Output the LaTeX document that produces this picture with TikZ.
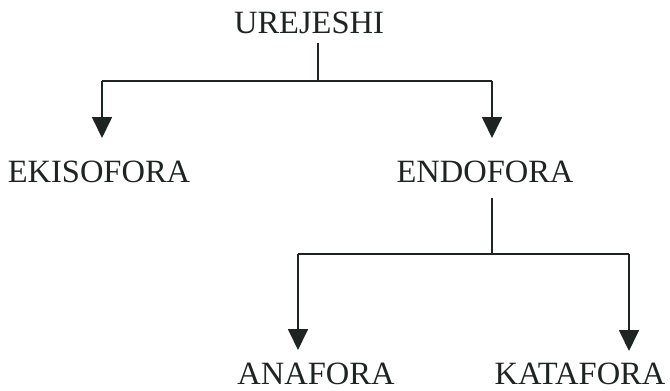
\documentclass[tikz,border=0pt]{standalone}
\usepackage{fontspec}
\setmainfont{Liberation Serif}
\usetikzlibrary{arrows.meta}
\definecolor{ink}{HTML}{1E2421}
\begin{document}
\begin{tikzpicture}[x=1pt,y=-1pt,
  lbl/.style={inner sep=0pt, anchor=base, text=ink, font=\fontsize{32.5}{36}\selectfont},
  conn/.style={draw=ink, line width=1.8pt},
  arr/.style={conn, -{Triangle[width=20pt,length=21pt]}}]
\useasboundingbox (0,0) rectangle (670,391);
% labels
\node[lbl] (ure)  at (309,33)  {UREJESHI};
\node[lbl] (eki)  at (99,182)  {EKISOFORA};
\node[lbl] (endo) at (485,182) {ENDOFORA};
\node[lbl] (ana)  at (316,384) {ANAFORA};
\node[lbl] (kata) at (580,384) {KATAFORA};
% joints and tips
\coordinate (j1) at (318,81);
\coordinate (j1l) at (102,81);
\coordinate (j1r) at (492,81);
\coordinate (t1l) at (102,138);
\coordinate (t1r) at (492,138);
\coordinate (j2) at (492,254);
\coordinate (j2l) at (298,254);
\coordinate (j2r) at (629,254);
\coordinate (t2l) at (298,350);
\coordinate (t2r) at (629,351);
% connectors
\draw[conn, shorten <=9pt] (ure.south -| j1) -- (j1);
\draw[conn] (j1l) -- (j1r);
\draw[arr] (j1l) -- (t1l);
\draw[arr] (j1r) -- (t1r);
\draw[conn, shorten <=15pt] (endo.south -| j2) -- (j2);
\draw[conn] (j2l) -- (j2r);
\draw[arr] (j2l) -- (t2l);
\draw[arr] (j2r) -- (t2r);
\end{tikzpicture}
\end{document}
